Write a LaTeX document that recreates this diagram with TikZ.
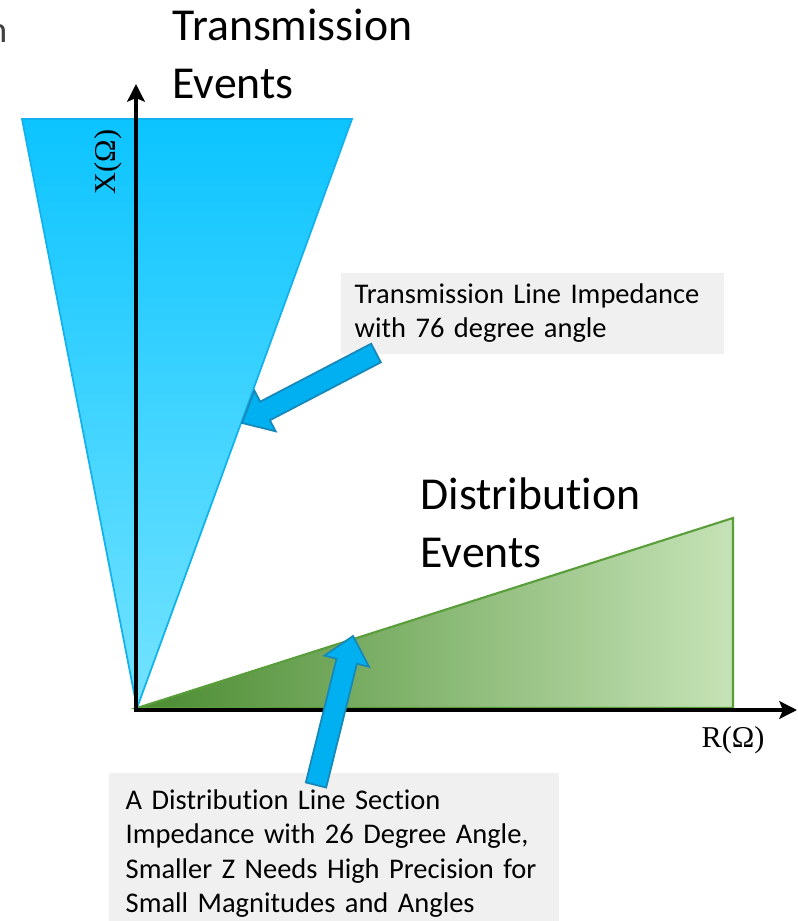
\documentclass[tikz,border=0pt]{standalone}
\usepackage{fontspec}
\setmainfont{Carlito}[Ligatures=NoCommon]
\newfontfamily\axisfont{Liberation Serif}
\usetikzlibrary{arrows.meta,calc}

\definecolor{skytop}{HTML}{0CC4FF}
\definecolor{skybottom}{HTML}{74E3FF}
\definecolor{skyedge}{HTML}{12B2EE}
\definecolor{leafdark}{HTML}{4A8B30}
\definecolor{leaflight}{HTML}{C6E3B7}
\definecolor{leafedge}{HTML}{5A9E3C}
\definecolor{callout}{HTML}{00B0F0}
\definecolor{calloutedge}{HTML}{1788B8}
\definecolor{notegray}{HTML}{F0F0F0}

% block arrow from tail #1 to tip #2
\newcommand{\blockarrow}[2]{%
  \coordinate (hb) at ($(#2)!0.26cm!(#1)$);
  \draw[calloutarrow] ($(#1)!0.105cm!90:(#2)$) -- ($(hb)!0.105cm!90:(#2)$)
    -- ($(hb)!0.23cm!90:(#2)$) -- (#2) -- ($(hb)!0.23cm!-90:(#2)$)
    -- ($(hb)!0.105cm!-90:(#2)$) -- ($(#1)!0.105cm!-90:(#2)$) -- cycle;}

\begin{document}
\begin{tikzpicture}[x=0.01cm, y=-0.01cm,
    bigtext/.style={anchor=north west, inner sep=0, align=left, font=\fontsize{13}{16.5}\selectfont},
    note/.style={anchor=north west, fill=notegray, align=left, inner ysep=0, font=\fontsize{8.1}{9.8}\selectfont},
    axislabel/.style={inner sep=0, font=\axisfont\fontsize{8.6}{10}\selectfont},
    axisline/.style={line width=1.4pt, -{Stealth[length=5pt, width=5pt, inset=1pt]}},
    calloutarrow/.style={fill=callout, draw=calloutedge, line width=0.5pt, line join=miter}]
    \useasboundingbox (0,0) rectangle (798,921);

    % Cut-off title letter
    \node (cut) [anchor=base east, inner sep=0, text=black!75, font=\fontsize{10.5}{12}\selectfont] at (8,42) {n};

    % Impedance regions
    \coordinate (origin) at (137,708);
    \fill[top color=skytop, bottom color=skybottom, draw=skyedge, line width=0.5pt]
        (22,119) -- (352,119) -- (origin) -- cycle;
    \fill[left color=leafdark, right color=leaflight, draw=leafedge, line width=0.6pt]
        (origin) -- (733,518) -- (733,708) -- cycle;

    % Region labels
    \node (trans) [bigtext] at (172,8) {Transmission\\Events};
    \node (dist) [bigtext] at (420,477) {Distribution\\Events};

    % Axes
    \coordinate (xend) at (797,710);
    \coordinate (yend) at (136,84);
    \coordinate (corner) at (136,710);
    \draw[axisline] ([xshift=-0.7pt]corner) -- (xend);
    \draw[axisline] ([yshift=-0.7pt]corner) -- (yend);
    \node (xlabel) [axislabel, rotate=90] at (108,162) {X(Ω)};
    \node (rlabel) [axislabel] at (733,740) {R(Ω)};

    % Notes
    \node (transnote) [note, text width=3.55cm, minimum width=3.83cm, minimum height=0.81cm, inner xsep=0.14cm] at (340,272)
        {Transmission Line Impedance\\with 76 degree angle};
    \node (distnote) [note, text width=4.16cm, minimum width=4.5cm, minimum height=1.62cm, inner xsep=0.17cm] at (108,772)
        {A Distribution Line Section\\Impedance with 26 Degree Angle,\\Smaller Z Needs High Precision for\\Small Magnitudes and Angles};

    % Arrows
    \coordinate (transtail) at (376,353);
    \coordinate (transtip) at (242,423);
    \coordinate (disttail) at (316,785);
    \coordinate (disttip) at (353,636);
    \blockarrow{transtail}{transtip}
    \blockarrow{disttail}{disttip}
\end{tikzpicture}
\end{document}
